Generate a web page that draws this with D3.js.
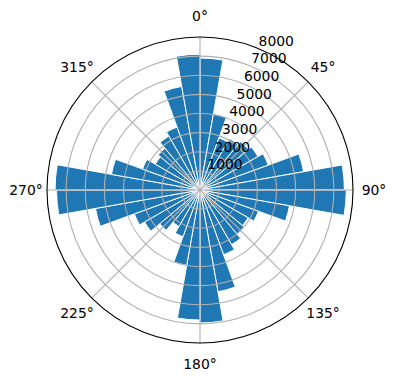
<!DOCTYPE html>
<html lang="en">
	<head>
		<meta charset="utf-8">
		<title>Polar bars</title>
		<script type="text/javascript" src="https://cdn.jsdelivr.net/npm/d3@7/dist/d3.min.js"></script>
		<style type="text/css">
			body{
				margin: 0;
				background: #fff;
			}
			text{
				font-family: "DejaVu Sans", sans-serif;
				font-size: 13.9px;
				fill: #000;
			}
		</style>
	</head>
	<body>
		<script type="text/javascript">

			// bar directions (degrees, centre of each 10 degree bin)
			var directions = [5, 15, 25, 35, 45, 55, 65, 75, 85,
							95, 105, 115, 125, 135, 145, 155, 165, 175,
							185, 195, 205, 215, 225, 235, 245, 255, 265,
							275, 285, 295, 305, 315, 325, 335, 345, 355];
			// counts per direction
			var counts = [6900, 4050, 2900, 3100, 3300, 3500, 3800, 5500, 7550,
						7650, 4750, 3250, 2900, 3000, 3300, 3600, 5400, 6950,
						6800, 4000, 2600, 2200, 2750, 3350, 3650, 5550, 7500,
						7580, 4700, 3200, 2700, 2850, 3250, 3500, 5500, 7100];
			var binWidth = 10;
			var rTicks = [1000, 2000, 3000, 4000, 5000, 6000, 7000, 8000];
			var thetaTicks = [0, 45, 90, 135, 180, 225, 270, 315];

			var width = 396, height = 380;
			var cx = 200, cy = 190, R = 153;

			var svg = d3.select("body")
						.append("svg")
						.attr("width", width)
						.attr("height", height);

			var g = svg.append("g")
						.attr("transform", "translate(" + cx + "," + cy + ")");

			var r = d3.scaleLinear().domain([0, 8000]).range([0, R]);
			var rad = function(deg) { return deg * Math.PI / 180; };

			var data = directions.map(function(d, i) { return {dir: d, value: counts[i]}; });

			var arc = d3.arc()
						.innerRadius(0)
						.outerRadius(function(d) { return r(d.value); })
						.startAngle(function(d) { return rad(d.dir - binWidth / 2); })
						.endAngle(function(d) { return rad(d.dir + binWidth / 2); });

			// bars
			g.selectAll(".bar")
				.data(data)
				.enter()
				.append("path")
				.attr("class", "bar")
				.attr("d", arc)
				.attr("fill", "#1f77b4")
				.attr("stroke", "#fff")
				.attr("stroke-width", 1);

			// rings (grid drawn over the bars like matplotlib)
			g.selectAll(".ring")
				.data(rTicks.slice(0, -1))
				.enter()
				.append("circle")
				.attr("class", "ring")
				.attr("r", function(d) { return r(d); })
				.attr("fill", "none")
				.attr("stroke", "#b0b0b0")
				.attr("stroke-width", 1.1);

			// spokes
			g.selectAll(".spoke")
				.data(thetaTicks)
				.enter()
				.append("line")
				.attr("class", "spoke")
				.attr("x1", 0)
				.attr("y1", 0)
				.attr("x2", function(d) { return R * Math.sin(rad(d)); })
				.attr("y2", function(d) { return -R * Math.cos(rad(d)); })
				.attr("stroke", "#b0b0b0")
				.attr("stroke-width", 1.1);

			// outer spine
			g.append("circle")
				.attr("r", R)
				.attr("fill", "none")
				.attr("stroke", "#000")
				.attr("stroke-width", 1.1);

			// angle labels
			g.selectAll(".tlabel")
				.data(thetaTicks)
				.enter()
				.append("text")
				.attr("class", "tlabel")
				.attr("x", function(d) { return (R + 21) * Math.sin(rad(d)); })
				.attr("y", function(d) { return -(R + 21) * Math.cos(rad(d)); })
				.attr("dy", "0.36em")
				.attr("text-anchor", "middle")
				.text(function(d) { return d + "\u00b0"; });

			// radial labels along 22.5 degrees
			var la = rad(22.5);
			g.selectAll(".rlabel")
				.data(rTicks)
				.enter()
				.append("text")
				.attr("class", "rlabel")
				.attr("x", function(d) { return r(d) * Math.sin(la); })
				.attr("y", function(d) { return -r(d) * Math.cos(la) - 3; })
				.attr("text-anchor", "start")
				.text(function(d) { return d; });

		</script>
	</body>
</html>
